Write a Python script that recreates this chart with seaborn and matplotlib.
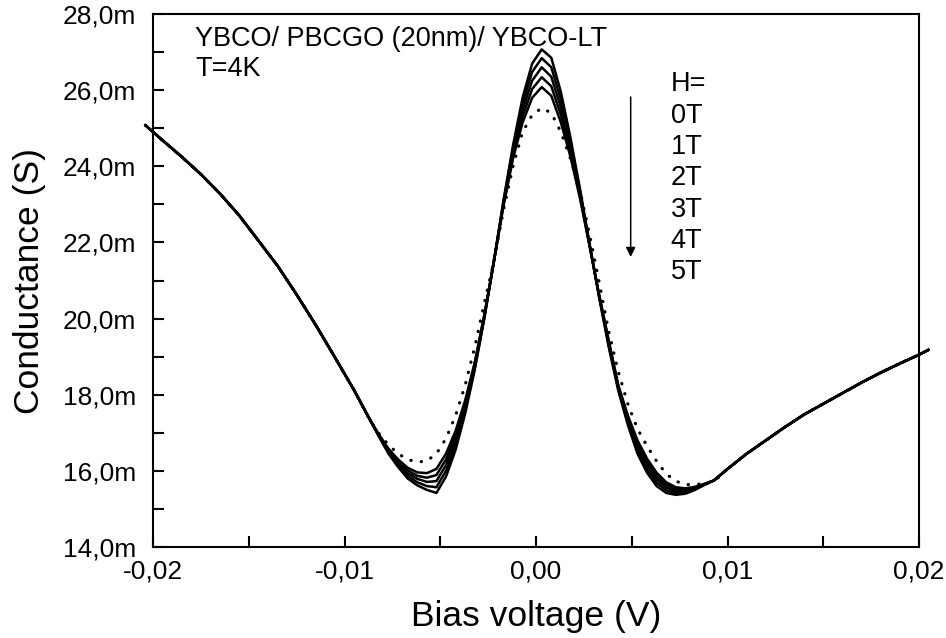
import numpy as np
import pandas as pd
import matplotlib
matplotlib.use("Agg")
import matplotlib.pyplot as plt
from matplotlib.ticker import MultipleLocator, FuncFormatter
import seaborn as sns

# ---------------- data (conductance in mS, bias in V) ----------------
fields = ["0T", "1T", "2T", "3T", "4T", "5T"]

# common left branch (all curves overlap)
x_left = [-0.0204, -0.0195, -0.0185, -0.0175, -0.0165, -0.0155, -0.0145,
          -0.0135, -0.0125, -0.0115, -0.0105, -0.0095]
y_left = [25.08, 24.68, 24.25, 23.79, 23.28, 22.71, 22.05,
          21.39, 20.63, 19.83, 18.98, 18.12]

# central region where the curves separate
x_center = [-0.0087, -0.0082, -0.0077, -0.0072, -0.0067, -0.0062, -0.0057,
            -0.0052, -0.0047, -0.0042, -0.0037, -0.0032, -0.0027, -0.0022,
            -0.0017, -0.0012, -0.0007, -0.0002, 0.0003, 0.0008, 0.0013,
            0.0018, 0.0023, 0.0028, 0.0033, 0.0038, 0.0043, 0.0048, 0.0053,
            0.0058, 0.0063, 0.0068, 0.0073, 0.0078, 0.0083, 0.0088, 0.0093]
y_0T = [17.37, 16.90, 16.45, 16.10, 15.80, 15.62, 15.50, 15.42, 15.85, 16.55,
        17.50, 18.65, 20.00, 21.50, 23.10, 24.55, 25.80, 26.70, 27.07, 26.85,
        25.95, 24.75, 23.40, 21.95, 20.55, 19.25, 18.10, 17.20, 16.45, 15.95,
        15.60, 15.42, 15.37, 15.40, 15.50, 15.63, 15.75]
y_1T = [17.37, 16.91, 16.48, 16.15, 15.87, 15.70, 15.60, 15.57, 16.00, 16.67,
        17.59, 18.70, 20.02, 21.50, 23.06, 24.46, 25.64, 26.48, 26.84, 26.60,
        25.75, 24.62, 23.34, 21.94, 20.57, 19.29, 18.14, 17.26, 16.54, 16.04,
        15.69, 15.49, 15.42, 15.44, 15.52, 15.64, 15.75]
y_2T = [17.37, 16.92, 16.51, 16.20, 15.94, 15.79, 15.71, 15.73, 16.15, 16.80,
        17.68, 18.75, 20.05, 21.50, 23.02, 24.38, 25.48, 26.25, 26.60, 26.35,
        25.55, 24.50, 23.28, 21.93, 20.59, 19.34, 18.18, 17.33, 16.63, 16.14,
        15.78, 15.56, 15.47, 15.47, 15.54, 15.65, 15.75]
y_3T = [17.37, 16.94, 16.55, 16.25, 16.01, 15.87, 15.82, 15.89, 16.30, 16.92,
        17.76, 18.80, 20.07, 21.50, 22.99, 24.29, 25.31, 26.03, 26.34, 26.10,
        25.35, 24.37, 23.21, 21.91, 20.60, 19.38, 18.21, 17.39, 16.71, 16.23,
        15.86, 15.63, 15.52, 15.51, 15.56, 15.65, 15.75]
y_4T = [17.37, 16.95, 16.58, 16.30, 16.08, 15.96, 15.94, 16.05, 16.45, 17.05,
        17.85, 18.85, 20.10, 21.50, 22.95, 24.20, 25.15, 25.80, 26.08, 25.85,
        25.15, 24.25, 23.15, 21.90, 20.62, 19.42, 18.25, 17.45, 16.80, 16.32,
        15.95, 15.70, 15.57, 15.54, 15.58, 15.66, 15.75]
y_5T = [17.35, 16.98, 16.68, 16.45, 16.30, 16.23, 16.26, 16.45, 16.85, 17.45,
        18.25, 19.25, 20.40, 21.50, 22.85, 24.00, 24.90, 25.35, 25.53, 25.40,
        24.90, 24.20, 23.35, 22.20, 20.95, 19.65, 18.60, 17.75, 17.10, 16.65,
        16.25, 15.92, 15.73, 15.64, 15.64, 15.67, 15.72]

# common right branch
x_right = [0.0100, 0.0110, 0.0120, 0.0130, 0.0140, 0.0150, 0.0160,
           0.0170, 0.0180, 0.0190, 0.0200, 0.0205]
y_right = [16.05, 16.45, 16.80, 17.15, 17.48, 17.76, 18.04,
           18.32, 18.58, 18.82, 19.05, 19.18]

centers = [y_0T, y_1T, y_2T, y_3T, y_4T, y_5T]

# ---------------- build long-form table ----------------
rows = []
for f, yc in zip(fields, centers):
    xs = x_left + x_center + x_right
    ys = y_left + yc + y_right
    for xv, yv in zip(xs, ys):
        rows.append((f, xv, yv))
df = pd.DataFrame(rows, columns=["field", "bias", "G"])

# ---------------- plotting ----------------
sns.set_theme(style="white")
plt.rcParams["font.family"] = ["Liberation Sans", "DejaVu Sans"]
plt.rcParams["text.color"] = "black"
plt.rcParams["axes.labelcolor"] = "black"
plt.rcParams["xtick.color"] = "black"
plt.rcParams["ytick.color"] = "black"

fig = plt.figure(figsize=(9.46, 6.38), dpi=100)
ax = fig.add_axes([153 / 946, 1 - 547 / 638, (919 - 153) / 946, (547 - 14) / 638])

for f in fields:
    sub = df[df["field"] == f]
    if f == "5T":
        sns.lineplot(data=sub, x="bias", y="G", ax=ax, color="black",
                     linewidth=2.3, linestyle=(0, (0.1, 3.2)),
                     dash_capstyle="round", clip_on=False, sort=False,
                     estimator=None)
    else:
        sns.lineplot(data=sub, x="bias", y="G", ax=ax, color="black",
                     linewidth=1.8, clip_on=False, sort=False, estimator=None,
                     solid_joinstyle="round")

ax.set_xlim(-0.02, 0.02)
ax.set_ylim(14, 28)

ax.xaxis.set_major_locator(MultipleLocator(0.01))
ax.xaxis.set_minor_locator(MultipleLocator(0.005))
ax.yaxis.set_major_locator(MultipleLocator(2))
ax.yaxis.set_minor_locator(MultipleLocator(1))


def xfmt(v, _):
    if abs(v) < 1e-9:
        v = 0.0
    return f"{v:.2f}".replace(".", ",")


def yfmt(v, _):
    return f"{v:.1f}m".replace(".", ",")


ax.xaxis.set_major_formatter(FuncFormatter(xfmt))
ax.yaxis.set_major_formatter(FuncFormatter(yfmt))

ax.tick_params(which="both", direction="in", length=8, width=1.5,
               colors="black", bottom=True, left=True, top=False, right=False,
               labelsize=19)
ax.tick_params(axis="y", which="major", pad=12)
ax.tick_params(axis="x", which="major", pad=9)

for s in ax.spines.values():
    s.set_visible(True)
    s.set_color("black")
    s.set_linewidth(1.5)

ax.set_xlabel("Bias voltage (V)", fontsize=25.5, labelpad=12)
ax.set_ylabel("Conductance (S)", fontsize=25.5, labelpad=12)

ax.text(0.055, 0.9405, "YBCO/ PBCGO (20nm)/ YBCO-LT", transform=ax.transAxes,
        fontsize=19.5, va="baseline", ha="left")
ax.text(0.055, 0.8842, "T=4K", transform=ax.transAxes,
        fontsize=19.5, va="baseline", ha="left")

labels = ["H="] + fields
ypos = [0.8687, 0.8086, 0.7505, 0.6923, 0.6323, 0.5741, 0.5159]
for lab, yy in zip(labels, ypos):
    ax.text(0.676, yy, lab, transform=ax.transAxes, fontsize=19.5,
            va="center", ha="left")

ax.annotate("", xy=(0.6236, 0.5441), xytext=(0.6236, 0.8443),
            xycoords="axes fraction", textcoords="axes fraction",
            arrowprops=dict(arrowstyle="-|>", color="black", lw=1.1,
                            mutation_scale=14, shrinkA=0, shrinkB=0))

fig.savefig("out.png", dpi=100)
